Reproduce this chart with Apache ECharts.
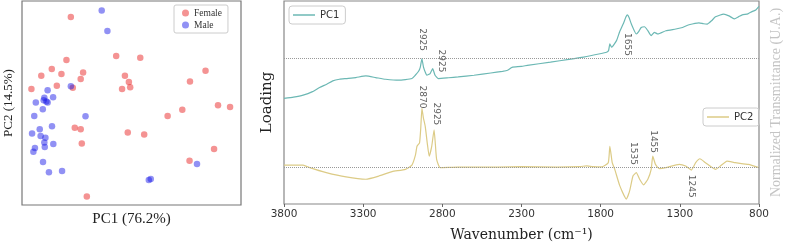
<!DOCTYPE html>
<html>
<head>
<meta charset="utf-8">
<script src="https://cdn.jsdelivr.net/npm/echarts@6/dist/echarts.min.js"></script>
<style>
  html, body { margin: 0; padding: 0; background: #fff; }
  #chart { width: 791px; height: 247px; }
</style>
</head>
<body>
<div id="chart"></div>
<script>
// PCA scores (arbitrary units)
const femaleScores = [
  [22.3, 92.2], [43.0, 73.0], [54.0, 72.2], [20.3, 71.1], [13.6, 66.7], [8.8, 63.4],
  [18.0, 64.2], [27.9, 64.9], [26.8, 61.8], [47.0, 63.4], [48.8, 60.3], [49.4, 57.7],
  [45.7, 56.9], [4.3, 56.9], [15.9, 58.5], [23.2, 57.5], [83.8, 65.8], [76.7, 60.5],
  [89.5, 48.9], [95.0, 48.0], [73.2, 46.7], [66.5, 43.6], [24.1, 37.9], [26.8, 37.1],
  [48.3, 35.6], [55.8, 34.5], [27.3, 30.2], [87.7, 27.5], [76.5, 21.7], [29.6, 4.2]
];
const maleScores = [
  [36.4, 95.4], [39.0, 85.3], [11.7, 56.2], [22.3, 58.2], [14.2, 52.8], [10.2, 52.6],
  [9.9, 51.3], [11.1, 50.7], [11.7, 50.2], [6.3, 50.2], [9.5, 46.9], [5.6, 43.6],
  [29.0, 43.5], [13.7, 38.6], [8.1, 37.1], [4.6, 35.1], [8.5, 33.8], [10.7, 33.0],
  [10.2, 30.6], [14.3, 29.9], [10.4, 28.4], [5.9, 27.9], [5.2, 26.1], [9.6, 21.1],
  [12.3, 16.0], [18.3, 16.7], [79.9, 20.1], [57.9, 12.3], [58.8, 12.7]
];

// loading spectra: wavenumber (cm-1) and loading (a.u., relative to each zero line)
const pc1Wn = [3800, 3740, 3679, 3620, 3575, 3530, 3492, 3450, 3408, 3346, 3283, 3221, 3158, 3075,
  2992, 2971, 2950, 2939, 2929, 2919, 2905, 2898, 2877, 2861, 2846, 2825, 2760, 2700, 2600, 2494,
  2420, 2388, 2365, 2356, 2300, 2263, 2117, 2000, 1908, 1804, 1763, 1750, 1742, 1731, 1700, 1680,
  1658, 1640, 1631, 1620, 1606, 1575, 1560, 1544, 1523, 1502, 1481, 1461, 1439, 1388, 1325, 1290,
  1242, 1179, 1150, 1127, 1100, 1075, 1023, 990, 956, 930, 906, 870, 844, 820, 800];
const pc1Loading = [-4.03, -3.9, -3.7, -3.35, -2.93, -2.6, -2.27, -2.1, -2.03, -1.93, -1.77, -1.93, -2.1, -2.2,
  -2.03, -1.7, -1.3, -0.87, -0.03, -0.87, -1.5, -1.7, -1.53, -1.03, -1.7, -2.03, -1.95, -1.87, -1.7, -1.47,
  -1.3, -1.2, -0.95, -0.87, -0.8, -0.7, -0.37, -0.1, 0.13, 0.47, 0.63, 0.8, 1.47, 1.13, 1.8, 2.7,
  3.47, 4.2, 4.4, 4.1, 3.47, 2.47, 2.7, 3.13, 3.2, 2.8, 2.3, 2.63, 2.47, 2.8, 2.97, 3.1,
  3.4, 3.6, 3.5, 3.47, 3.8, 4.2, 4.47, 4.3, 4.0, 4.2, 4.4, 4.5, 4.73, 4.9, 5.25];

const pc2Wn = [3800, 3679, 3638, 3533, 3408, 3283, 3200, 3117, 3033, 2992, 2970, 2960, 2944, 2936, 2929,
  2920, 2908, 2895, 2883, 2867, 2852, 2844, 2836, 2814, 2700, 2450, 2300, 2075, 1930, 1888, 1850, 1794,
  1752, 1742, 1727, 1711, 1679, 1638, 1617, 1596, 1575, 1554, 1529, 1502, 1481, 1471, 1454, 1429,
  1388, 1304, 1263, 1227, 1200, 1173, 1138, 1075, 1044, 1002, 950, 867, 800];
const pc2Loading = [0.2, 0.2, -0.06, -0.56, -1.0, -1.23, -0.9, -0.46, -0.23, 0.2, 1.2, 2.1, 2.44, 4.0, 5.94,
  5.0, 4.1, 2.4, 1.1, 2.1, 3.77, 2.3, 0.77, -0.06, 0.0, 0.0, 0.05, 0.0, 0.05, 0.12, 0.05, 0.02,
  0.44, 2.1, 0.44, -0.23, -1.9, -3.23, -2.4, -0.9, -0.56, -1.23, -1.8, -1.23, -0.23, 1.1, 0.27, -0.16,
  -0.06, 0.27, 0.1, -0.3, 0.44, 0.84, 0.44, -0.23, 0.1, 0.6, 0.44, 0.27, -0.06];

const PC1_OFFSET = 14.7;
const PC2_OFFSET = 3.73;

// peak annotations: text, wavenumber, height on the plot axis
const peakText = ['2925', '2925', '2870', '2925', '1655', '1535', '1455', '1245'];
const peakWn = [2929, 2804, 2929, 2836, 1631, 1592, 1467, 1227];
const peakY = [16.6, 14.45, 10.8, 9.1, 16.1, 5.1, 6.3, 1.8];

const wnTicks = [3800, 3300, 2800, 2300, 1800, 1300, 800];

const serif = 'Liberation Serif';
const serif2 = 'DejaVu Serif';
const sans = 'DejaVu Sans';

const chart = echarts.init(document.getElementById('chart'));

const option = {
  animation: false,
  backgroundColor: '#fff',
  grid: [
    { left: 22, top: 1, width: 219, height: 204, show: true, borderColor: '#777', borderWidth: 1.2, backgroundColor: 'transparent' },
    { left: 284, top: 1, width: 480, height: 204, show: true, borderColor: '#888', borderWidth: 1.2, backgroundColor: 'transparent' }
  ],
  legend: [
    {
      data: ['Female', 'Male'],
      orient: 'vertical',
      left: 174, top: 5,
      icon: 'circle', itemWidth: 7, itemHeight: 7, itemGap: 2,
      padding: [3, 6, 3, 8],
      borderColor: '#ccc', borderWidth: 1, borderRadius: 2,
      textStyle: { fontFamily: serif, fontSize: 9.5, color: '#333', width: 34, align: 'center' }
    },
    {
      data: ['PC1'],
      left: 289, top: 6,
      icon: 'rect', itemWidth: 22, itemHeight: 1.5,
      padding: [4, 6, 4, 4],
      borderColor: '#ccc', borderWidth: 1, borderRadius: 3,
      textStyle: { fontFamily: sans, fontSize: 10, color: '#333' }
    },
    {
      data: ['PC2'],
      left: 703, top: 108,
      icon: 'rect', itemWidth: 22, itemHeight: 1.5,
      padding: [4, 6, 4, 4],
      borderColor: '#ccc', borderWidth: 1, borderRadius: 3,
      textStyle: { fontFamily: sans, fontSize: 10, color: '#333' }
    }
  ],
  xAxis: [
    {
      gridIndex: 0, type: 'value', min: 0, max: 100,
      axisLine: { show: false }, axisTick: { show: false }, axisLabel: { show: false }, splitLine: { show: false },
      name: 'PC1 (76.2%)', nameLocation: 'middle', nameGap: 7,
      nameTextStyle: { fontFamily: serif, fontSize: 15, color: '#222' }
    },
    {
      gridIndex: 1, type: 'value', min: 800, max: 3800, inverse: true,
      axisLine: { show: false },
      axisTick: { show: true, length: 3, customValues: wnTicks, lineStyle: { color: '#666' } },
      axisLabel: { customValues: wnTicks, formatter: v => String(v), fontFamily: sans, fontSize: 10.5, color: '#333', margin: 5 },
      splitLine: { show: false },
      name: 'Wavenumber (cm\u207B\u00B9)', nameLocation: 'middle', nameGap: 24,
      nameTextStyle: { fontFamily: serif2, fontSize: 14, color: '#222' }
    }
  ],
  yAxis: [
    {
      gridIndex: 0, type: 'value', min: 0, max: 100,
      axisLine: { show: false }, axisTick: { show: false }, axisLabel: { show: false }, splitLine: { show: false },
      name: 'PC2 (14.5%)', nameLocation: 'middle', nameGap: 7, nameRotate: 90,
      nameTextStyle: { fontFamily: serif, fontSize: 13, color: '#222' }
    },
    {
      gridIndex: 1, type: 'value', min: 0, max: 20.5,
      axisLine: { show: false }, axisTick: { show: false }, axisLabel: { show: false }, splitLine: { show: false },
      name: 'Loading', nameLocation: 'middle', nameGap: 9, nameRotate: 90,
      nameTextStyle: { fontFamily: serif2, fontSize: 15, color: '#222' }
    },
    {
      gridIndex: 1, type: 'value', min: 0, max: 1, position: 'right',
      axisLine: { show: false }, axisTick: { show: false }, axisLabel: { show: false }, splitLine: { show: false },
      name: 'Normalized Transmittance (U.A.)', nameLocation: 'middle', nameGap: 10, nameRotate: 90,
      nameTextStyle: { fontFamily: serif, fontSize: 14, color: '#c4c4c4' }
    }
  ],
  series: [
    {
      name: 'Female', type: 'scatter', xAxisIndex: 0, yAxisIndex: 0,
      symbolSize: 6.5, data: femaleScores,
      itemStyle: { color: 'rgba(232,30,30,0.6)' }
    },
    {
      name: 'Male', type: 'scatter', xAxisIndex: 0, yAxisIndex: 0,
      symbolSize: 6.5, data: maleScores,
      itemStyle: { color: 'rgba(25,25,232,0.6)' }
    },
    {
      name: 'PC1', type: 'line', xAxisIndex: 1, yAxisIndex: 1,
      showSymbol: false, smooth: 0.15,
      data: pc1Wn.map((w, i) => [w, pc1Loading[i] + PC1_OFFSET]),
      lineStyle: { color: '#6cb8b4', width: 1.2 }, itemStyle: { color: '#6cb8b4' },
      markLine: {
        silent: true, symbol: 'none', label: { show: false },
        lineStyle: { color: '#999', type: 'dotted', width: 1 },
        data: [{ yAxis: PC1_OFFSET }]
      }
    },
    {
      name: 'PC2', type: 'line', xAxisIndex: 1, yAxisIndex: 1,
      showSymbol: false, smooth: 0.15,
      data: pc2Wn.map((w, i) => [w, pc2Loading[i] + PC2_OFFSET]),
      lineStyle: { color: '#dccb86', width: 1.2 }, itemStyle: { color: '#dccb86' },
      markLine: {
        silent: true, symbol: 'none', label: { show: false },
        lineStyle: { color: '#999', type: 'dotted', width: 1 },
        data: [{ yAxis: PC2_OFFSET }]
      }
    },
    {
      name: 'peaks', type: 'scatter', xAxisIndex: 1, yAxisIndex: 1, silent: true,
      symbolSize: 1, itemStyle: { color: 'rgba(0,0,0,0)' },
      data: peakText.map((t, i) => [peakWn[i], peakY[i], t]),
      label: {
        show: true, position: 'inside', rotate: -90,
        formatter: p => p.value[2],
        fontFamily: sans, fontSize: 9, color: '#333'
      }
    }
  ]
};

chart.setOption(option);
</script>
</body>
</html>
